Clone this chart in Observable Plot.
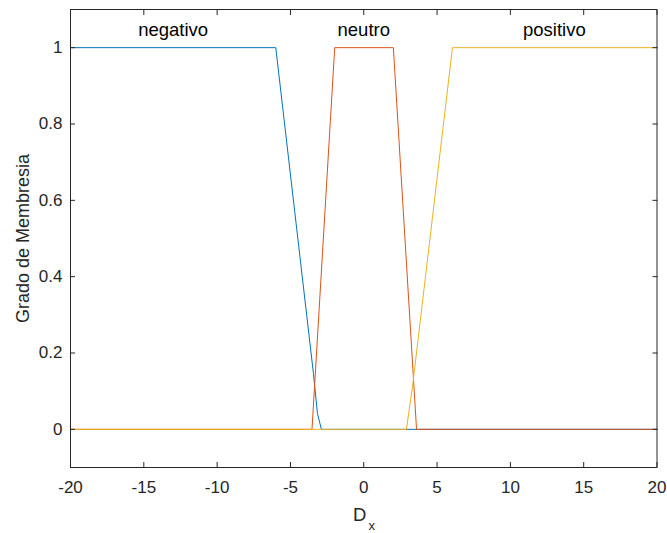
<!DOCTYPE html>
<html>
<head>
<meta charset="utf-8">
<script src="https://cdn.jsdelivr.net/npm/d3@7"></script>
<script src="https://cdn.jsdelivr.net/npm/@observablehq/plot@0.6"></script>
<style>
  html, body { margin: 0; padding: 0; background: #fff; }
  #chart svg { display: block; }
</style>
</head>
<body>
<div id="chart"></div>
<script>
// Membership functions
const negX = [-20, -6, -3.43, -3.16, -2.89, 20];
const negY = [1, 1, 0.146, 0.042, 0, 0];
const neuX = [-20, -3.53, -1.98, 2.02, 3.6, 20];
const neuY = [0, 0, 1, 1, 0, 0];
const posX = [-20, 2.91, 3.32, 6.05, 20];
const posY = [0, 0, 0.11, 1, 1];

const seriesColors = ["#0072BD", "#D95319", "#EDB120"];

const annoLabels = ["negativo", "neutro", "positivo"];
const annoX = [-13, 0, 13];
const annoY = 1.05;

const xTicks = [-20, -15, -10, -5, 0, 5, 10, 15, 20];
const xTickLabels = ["-20", "-15", "-10", "-5", "0", "5", "10", "15", "20"];
const yTicks = [0, 0.2, 0.4, 0.6, 0.8, 1];
const yTickLabels = ["0", "0.2", "0.4", "0.6", "0.8", "1"];

const xLabelMain = "D";
const xLabelSub = "x";
const yLabel = "Grado de Membresia";

const toRows = (xs, ys) => xs.map((x, i) => ({x, y: ys[i]}));
const neg = toRows(negX, negY);
const neu = toRows(neuX, neuY);
const pos = toRows(posX, posY);
const annos = annoLabels.map((t, i) => ({t, x: annoX[i], y: annoY}));

const ink = "#262626";
const fmtX = d => xTickLabels[xTicks.indexOf(d)];
const fmtY = d => yTickLabels[yTicks.indexOf(d)];
const blank = () => "";

const chart = Plot.plot({
  width: 667,
  height: 533,
  marginTop: 9,
  marginBottom: 66,
  marginLeft: 70,
  marginRight: 10.5,
  style: {fontFamily: "'Liberation Sans', Arial, Helvetica, sans-serif", fontSize: "17px", color: ink, background: "#fff"},
  x: {domain: [-20, 20]},
  y: {domain: [-0.1, 1.1]},
  marks: [
    Plot.line(neg, {x: "x", y: "y", stroke: seriesColors[0], strokeWidth: 1}),
    Plot.line(neu, {x: "x", y: "y", stroke: seriesColors[1], strokeWidth: 1}),
    Plot.line(pos, {x: "x", y: "y", stroke: seriesColors[2], strokeWidth: 1}),
    Plot.frame({stroke: ink, strokeWidth: 1}),
    // x axis labels and inward ticks (bottom + top)
    Plot.axisX(xTicks, {anchor: "bottom", tickSize: 0, tickPadding: 13.5, tickFormat: fmtX, fontSize: 17, label: null, fill: ink}),
    Plot.axisX(xTicks, {anchor: "bottom", tickSize: 5, dy: -5, tickFormat: blank, label: null, stroke: ink}),
    Plot.axisX(xTicks, {anchor: "top", tickSize: 5, dy: 5, tickFormat: blank, label: null, stroke: ink}),
    // y axis labels and inward ticks (left + right)
    Plot.axisY(yTicks, {anchor: "left", tickSize: 0, tickPadding: 8, tickFormat: fmtY, fontSize: 17, label: null, fill: ink}),
    Plot.axisY(yTicks, {anchor: "left", tickSize: 5, dx: 5, tickFormat: blank, label: null, stroke: ink}),
    Plot.axisY(yTicks, {anchor: "right", tickSize: 5, dx: -5, tickFormat: blank, label: null, stroke: ink}),
    // annotations
    Plot.text(annos, {x: "x", y: "y", text: "t", fontSize: 18.5, fill: "#000", lineAnchor: "middle", dy: 1.5}),
    // axis titles
    Plot.text([yLabel], {frameAnchor: "left", textAnchor: "middle", rotate: -90, lineAnchor: "bottom", dx: -42, fontSize: 18, fill: ink}),
    Plot.text([xLabelMain], {frameAnchor: "bottom", textAnchor: "middle", lineAnchor: "bottom", dx: -4, dy: 53, fontSize: 18.5, fill: ink}),
    Plot.text([xLabelSub], {frameAnchor: "bottom", textAnchor: "middle", lineAnchor: "bottom", dx: 8, dy: 62.5, fontSize: 13, fill: ink})
  ]
});
document.getElementById("chart").appendChild(chart);
</script>
</body>
</html>
